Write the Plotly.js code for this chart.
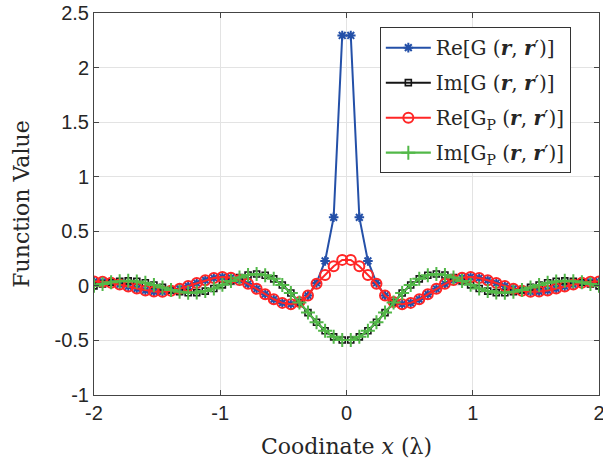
<!DOCTYPE html>
<html>
<head>
<meta charset="utf-8">
<script src="https://cdn.plot.ly/plotly-3.0.1.min.js"></script>
<style>html,body{margin:0;padding:0;background:#fff;}#chart{width:603px;height:468px;}</style>
</head>
<body>
<div id="chart"></div>
<script>
// Sample positions (lambda)
const xVals = [-2.0000,-1.9322,-1.8644,-1.7966,-1.7288,-1.6610,-1.5932,-1.5254,-1.4576,-1.3898,
  -1.3220,-1.2542,-1.1864,-1.1186,-1.0508,-0.9831,-0.9153,-0.8475,-0.7797,-0.7119,
  -0.6441,-0.5763,-0.5085,-0.4407,-0.3729,-0.3051,-0.2373,-0.1695,-0.1017,-0.0339,
  0.0339,0.1017,0.1695,0.2373,0.3051,0.3729,0.4407,0.5085,0.5763,0.6441,
  0.7119,0.7797,0.8475,0.9153,0.9831,1.0508,1.1186,1.1864,1.2542,1.3220,
  1.3898,1.4576,1.5254,1.5932,1.6610,1.7288,1.7966,1.8644,1.9322,2.0000];

const reG = [0.040,0.038,0.028,0.013,-0.006,-0.025,-0.042,-0.052,-0.053,-0.044,
  -0.026,-0.002,0.026,0.052,0.072,0.081,0.075,0.054,0.019,-0.027,
  -0.076,-0.123,-0.156,-0.168,-0.149,-0.089,0.027,0.228,0.628,2.294,
  2.294,0.628,0.228,0.027,-0.089,-0.149,-0.168,-0.156,-0.123,-0.076,
  -0.027,0.019,0.054,0.075,0.081,0.072,0.052,0.026,-0.002,-0.026,
  -0.044,-0.053,-0.052,-0.042,-0.025,-0.006,0.013,0.028,0.038,0.040];

const imG = [0.000,0.017,0.032,0.042,0.046,0.041,0.028,0.008,-0.014,-0.037,
  -0.054,-0.063,-0.062,-0.048,-0.024,0.009,0.044,0.077,0.100,0.109,
  0.097,0.064,0.008,-0.066,-0.153,-0.245,-0.334,-0.411,-0.467,-0.496,
  -0.496,-0.467,-0.411,-0.334,-0.245,-0.153,-0.066,0.008,0.064,0.097,
  0.109,0.100,0.077,0.044,0.009,-0.024,-0.048,-0.062,-0.063,-0.054,
  -0.037,-0.014,0.008,0.028,0.041,0.046,0.042,0.032,0.017,0.000];

const reGP = [0.040,0.038,0.028,0.013,-0.006,-0.025,-0.042,-0.052,-0.053,-0.044,
  -0.026,-0.002,0.026,0.052,0.072,0.081,0.075,0.054,0.019,-0.027,
  -0.076,-0.123,-0.156,-0.168,-0.149,-0.089,0.020,0.100,0.180,0.238,
  0.238,0.180,0.100,0.020,-0.089,-0.149,-0.168,-0.156,-0.123,-0.076,
  -0.027,0.019,0.054,0.075,0.081,0.072,0.052,0.026,-0.002,-0.026,
  -0.044,-0.053,-0.052,-0.042,-0.025,-0.006,0.013,0.028,0.038,0.040];

const imGP = [0.000,0.017,0.032,0.042,0.046,0.041,0.028,0.008,-0.014,-0.037,
  -0.054,-0.063,-0.062,-0.048,-0.024,0.009,0.044,0.077,0.100,0.109,
  0.097,0.064,0.008,-0.066,-0.153,-0.245,-0.334,-0.411,-0.467,-0.496,
  -0.496,-0.467,-0.411,-0.334,-0.245,-0.153,-0.066,0.008,0.064,0.097,
  0.109,0.100,0.077,0.044,0.009,-0.024,-0.048,-0.062,-0.063,-0.054,
  -0.037,-0.014,0.008,0.028,0.041,0.046,0.042,0.032,0.017,0.000];

const seriesNames = [
  'Re[G (<b><i>r</i></b>, <b><i>r</i></b>′)]',
  'Im[G (<b><i>r</i></b>, <b><i>r</i></b>′)]',
  'Re[G<sub>P</sub> (<b><i>r</i></b>, <b><i>r</i></b>′)]',
  'Im[G<sub>P</sub> (<b><i>r</i></b>, <b><i>r</i></b>′)]'
];
const xTickVals = [-2,-1,0,1,2];
const xTickText = ['-2','-1','0','1','2'];
const yTickVals = [-1,-0.5,0,0.5,1,1.5,2,2.5];
const yTickText = ['-1','-0.5','0','0.5','1','1.5','2','2.5'];

const blue = '#2450A8', black = '#151515', red = '#FF2626', green = '#52B848';

const traces = [
  {x:xVals, y:reG, name:seriesNames[0], legendgroup:'a', mode:'lines+markers',
   line:{color:blue,width:2}, marker:{symbol:'asterisk-open',size:8,color:blue,line:{color:blue,width:2}}},
  {x:xVals, y:imG, name:seriesNames[1], legendgroup:'b', mode:'lines+markers',
   line:{color:black,width:2}, marker:{symbol:'square-open',size:6,color:black,line:{color:black,width:1.6}}},
  {x:xVals, y:reGP, name:seriesNames[2], legendgroup:'c', mode:'lines+markers',
   line:{color:red,width:2}, marker:{symbol:'circle-open',size:10,color:red,line:{color:red,width:2}}},
  {x:xVals, y:imGP, name:seriesNames[3], legendgroup:'d', mode:'lines+markers',
   line:{color:green,width:2.2}, marker:{symbol:'cross-thin-open',size:10,color:green,line:{color:green,width:2}}}
];

const axisCommon = {
  showgrid:true, gridcolor:'#e3e3e3', gridwidth:1, zeroline:false,
  showline:true, linecolor:'#444', linewidth:1, mirror:'ticks',
  ticks:'inside', ticklen:5, tickcolor:'#444', tickwidth:1,
  ticklabeloverflow:'allow',
  tickfont:{family:'Liberation Sans, Arial, sans-serif', size:20, color:'#262626'}
};

const layout = {
  width:603, height:468,
  margin:{l:94, r:4, t:13, b:73},
  paper_bgcolor:'#fff', plot_bgcolor:'#fff',
  showlegend:true,
  xaxis:Object.assign({}, axisCommon, {
    range:[-2,2], tickvals:xTickVals, ticktext:xTickText,
    title:{text:'Coodinate <i>x</i> (λ)', font:{family:'DejaVu Serif, serif', size:22, color:'#262626'}, standoff:15}
  }),
  yaxis:Object.assign({}, axisCommon, {
    range:[-1,2.5], tickvals:yTickVals, ticktext:yTickText,
    title:{text:'Function Value', font:{family:'DejaVu Serif, serif', size:22, color:'#262626'}, standoff:18}
  }),
  legend:{
    x:0.566, y:0.963, xanchor:'left', yanchor:'top',
    bgcolor:'#fff', bordercolor:'#333', borderwidth:1,
    font:{family:'DejaVu Serif, serif', size:20, color:'#262626'},
    traceorder:'grouped', tracegroupgap:6, itemwidth:45
  }
};

Plotly.newPlot('chart', traces, layout, {displayModeBar:false, staticPlot:true});
</script>
</body>
</html>
